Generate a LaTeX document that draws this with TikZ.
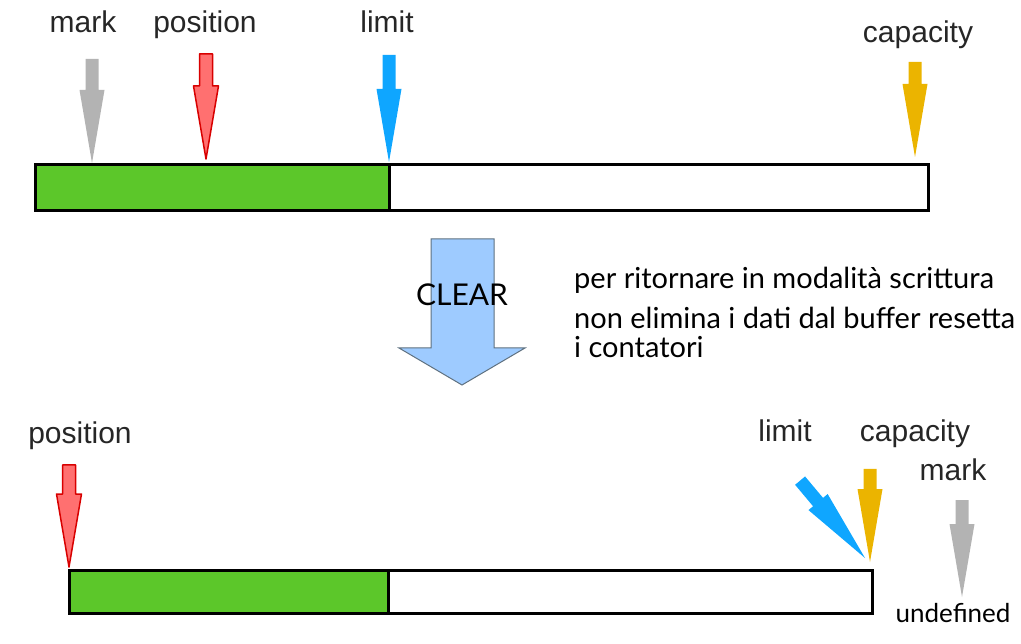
\documentclass[tikz,border=0pt]{standalone}
\usepackage{fontspec}
\setmainfont{Liberation Sans}
\newfontfamily\gillfont{Lato}
\definecolor{markgray}{HTML}{B3B3B3}
\definecolor{posred}{HTML}{FF7070}
\definecolor{posdark}{HTML}{D80000}
\definecolor{limblue}{HTML}{0FA6FF}
\definecolor{capyellow}{HTML}{EBB400}
\definecolor{bargreen}{HTML}{5CC72A}
\definecolor{clearblue}{HTML}{9ECBFF}
\definecolor{clearedge}{HTML}{5F7180}
\tikzset{
  pics/pointer/.style={code={
    \path[pic actions] (0,0) -- (-12.5,-73) -- (-6.5,-73) -- (-6.5,-#1)
      -- (6.5,-#1) -- (6.5,-73) -- (12.5,-73) -- cycle;
  }},
  lbl/.style={font=\fontsize{30}{34}\selectfont, text=black!85, anchor=base},
  note/.style={font=\gillfont\fontsize{29}{29}\selectfont, align=left, anchor=base west},
  redptr/.style={fill=posred, draw=posdark, line width=1.5pt, line join=round},
}
\begin{document}
\begin{tikzpicture}[x=1pt,y=-1pt]
\tikzstyle{every node}+=[inner sep=0pt]
\useasboundingbox (0,0) rectangle (1021,644);
\node [lbl] (mark1) at (83,33) {mark};
\node [lbl] (pos1) at (205,33) {position};
\node [lbl] (lim1) at (387,33) {limit};
\node [lbl] (cap1) at (918,43) {capacity};
\pic [fill=markgray] at (92,163) {pointer=104};
\pic [redptr] at (206,159) {pointer=105};
\pic [fill=limblue] at (389,162) {pointer=107};
\pic [fill=capyellow] at (915,157) {pointer=95};
\draw [black, line width=3pt, fill=bargreen] (35,165) rectangle (389,211);
\draw [black, line width=3pt, fill=white] (389,165) rectangle (928,211);
\draw [clearedge, line width=1pt, fill=clearblue] (431,239) -- (494,239) -- (494,348) -- (525,348)
  -- (462,385) -- (399,348) -- (431,348) -- cycle;
\node [font=\gillfont\fontsize{30}{34}\selectfont] (clear) at (462,295) {CLEAR};
\node [note] (note1) at (574,289) {per ritornare in modalità scrittura};
\node [note] (note2) at (574,358) {non elimina i dati dal buffer resetta\\i contatori};
\node [lbl] (pos2) at (80,444) {position};
\node [lbl] (lim2) at (785,442) {limit};
\node [lbl] (cap2) at (915,442) {capacity};
\node [lbl] (mark2) at (953,480) {mark};
\node [anchor=base, font=\gillfont\fontsize{26}{29}\selectfont] (undef) at (953,622) {undefined};
\pic [redptr] at (69,567) {pointer=102};
\pic [fill=limblue, rotate=40] at (865,558) {pointer=101};
\pic [fill=capyellow] at (870,562) {pointer=93};
\pic [fill=markgray] at (962,597) {pointer=97};
\draw [black, line width=3pt, fill=bargreen] (69,570) rectangle (388,613);
\draw [black, line width=3pt, fill=white] (388,570) rectangle (872,613);
\end{tikzpicture}
\end{document}
